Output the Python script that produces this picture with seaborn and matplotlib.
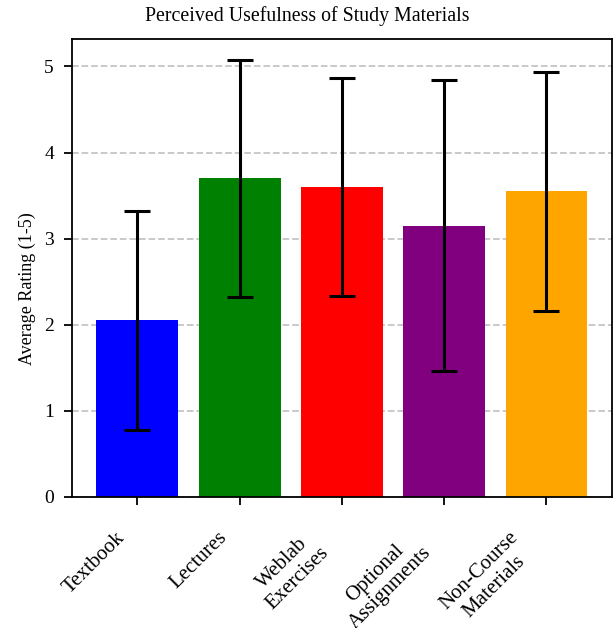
import matplotlib
matplotlib.use("Agg")
import matplotlib.pyplot as plt
import matplotlib.transforms as mtransforms
import seaborn as sns
import numpy as np
import pandas as pd

categories = ["Textbook", "Lectures", "Weblab\nExercises", "Optional\nAssignments", "Non-Course\nMaterials"]
means = [2.05, 3.70, 3.60, 3.15, 3.55]
errors = [1.27, 1.38, 1.27, 1.69, 1.39]
colors = ["blue", "green", "red", "purple", "orange"]
yticks = [0, 1, 2, 3, 4, 5]

plt.rcParams["font.family"] = ["Liberation Serif", "DejaVu Serif"]
plt.rcParams["axes.linewidth"] = 1.3

df = pd.DataFrame({"Material": categories, "Rating": means})

fig = plt.figure(figsize=(6.15, 6.28), dpi=100)
ax = fig.add_axes([0.117, 0.2086, 0.878, 0.7294])

sns.barplot(data=df, x="Material", y="Rating", hue="Material", palette=colors,
            legend=False, saturation=1, width=0.8, linewidth=0, errorbar=None, ax=ax)

xpos = np.arange(len(categories))
ax.errorbar(xpos, means, yerr=errors, fmt="none", ecolor="black",
            elinewidth=2.2, capsize=9.5, capthick=2.2, zorder=3)

ax.set_xlim(-0.64, len(categories) - 1 + 0.64)
ax.set_ylim(0, 5.32)
ax.set_yticks(yticks)
ax.yaxis.grid(True, linestyle="--", color="#bbbbbb", linewidth=1.3, alpha=0.85)
ax.set_axisbelow(True)

fig.suptitle("Perceived Usefulness of Study Materials", x=0.5, y=0.9666,
             va="baseline", fontsize=14.3)
ax.set_ylabel("Average Rating (1-5)", fontsize=13)
ax.yaxis.set_label_coords(-0.067, 0.454)
ax.set_xlabel("")
ax.tick_params(axis="both", labelsize=14, width=1.3, length=6, pad=6)
ax.tick_params(axis="y", pad=7)
ax.tick_params(axis="x", labelsize=15)
ax.set_xticks(xpos)
ax.set_xticklabels(categories, rotation=45, ha="right", rotation_mode="default",
                   multialignment="center")
offset = mtransforms.ScaledTranslation(-9 / 100, -14.5 / 100, fig.dpi_scale_trans)
for lab in ax.get_xticklabels():
    lab.set_transform(lab.get_transform() + offset)

fig.savefig("out.png", dpi=100)
